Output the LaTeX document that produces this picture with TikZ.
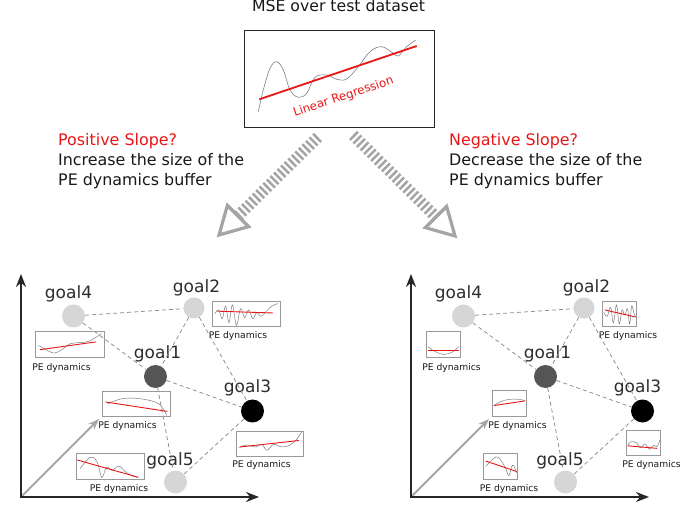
\documentclass[tikz,border=0pt]{standalone}
\usepackage{fontspec}
\setmainfont{DejaVu Sans}
\usetikzlibrary{arrows.meta}
\definecolor{myred}{RGB}{232,22,22}
\definecolor{txtc}{RGB}{25,25,25}
\definecolor{lblc}{RGB}{45,45,45}
\definecolor{nodelight}{RGB}{214,214,214}
\definecolor{nodedark}{RGB}{85,85,85}
\definecolor{hatchc}{RGB}{165,165,165}
\tikzset{
  bigtxt/.style={font=\fontsize{15.9}{20}\selectfont, text=txtc, inner sep=0pt, anchor=base west},
  redtxt/.style={bigtxt, text=myred},
  goallbl/.style={font=\fontsize{17}{20}\selectfont, text=lblc, inner sep=0pt, anchor=base},
  pelbl/.style={font=\fontsize{9.2}{10}\selectfont, text=txtc, inner sep=0pt},
  pebox/.style={draw=black!40, line width=0.7pt, inner sep=0pt, outer sep=0pt, anchor=north west},
  gcurve/.style={draw=black!55, line width=0.45pt},
  rline/.style={draw=myred, line width=0.9pt},
  goalnode/.style={circle, minimum size=23pt, inner sep=0pt},
  edge/.style={draw=black!45, line width=0.75pt, dash pattern=on 4pt off 3pt},
  axisline/.style={draw=black!85, line width=1.8pt, line cap=rect, -{Stealth[length=13pt,width=10pt]}},
  diagline/.style={draw=black!35, line width=1.8pt, -{Stealth[length=11pt,width=8pt]}},
  hatchshaft/.style={draw=hatchc, line width=11.5pt, dash pattern=on 2.5pt off 2.5pt},
  hatchhead/.style={draw=hatchc, line width=3.2pt, line join=miter},
}
% #1 name, #2 x, #3 y, #4 w, #5 h, #6 gray coords, #7 red path
\newcommand\pebox[7]{%
  \node[pebox, minimum width=#4pt, minimum height=#5pt] (#1) at (#2,#3) {};
  \begin{scope}[shift={(#2,#3)}, x=#4pt, y=-#5pt]
    \draw[gcurve] plot[smooth, tension=0.6] coordinates {#6};
    \draw[rline] #7;
  \end{scope}}
\newcommand\drawpanel[1]{%
  \coordinate (#1o) at (21,497);
  \coordinate (#1ytip) at (21,274);
  \coordinate (#1xtip) at (259,497);
  \coordinate (#1dtip) at (99,419);
  \draw[diagline] (#1o) -- (#1dtip);
  \draw[axisline] (#1o) -- (#1ytip);
  \draw[axisline] (#1o) -- (#1xtip);
  \node[goalnode, fill=nodelight] (#1g4) at (73.5,316) {};
  \node[goalnode, fill=nodelight, minimum size=21pt] (#1g2) at (194,308) {};
  \node[goalnode, fill=nodedark] (#1g1) at (155.5,376.5) {};
  \node[goalnode, fill=black] (#1g3) at (252.5,411) {};
  \node[goalnode, fill=nodelight] (#1g5) at (175.5,482) {};
  \node[goallbl] (#1l4) at (68.5,298.5) {goal4};
  \node[goallbl] (#1l2) at (196.5,293) {goal2};
  \node[goallbl] (#1l1) at (157.5,359) {goal1};
  \node[goallbl] (#1l3) at (247.5,392.5) {goal3};
  \node[goallbl] (#1l5) at (170,465.5) {goal5};
  \draw[edge] (#1g4) -- (#1g2);
  \draw[edge] (#1g4) -- (#1g1);
  \draw[edge] (#1g2) -- (#1g1);
  \draw[edge] (#1g2) -- (#1g3);
  \draw[edge] (#1g1) -- (#1g3);
  \draw[edge] (#1g1) -- (#1g5);
  \draw[edge] (#1g3) -- (#1g5);
  \node[pelbl] (#1t2) at (238,336) {PE dynamics};
  \node[pelbl] (#1t4) at (61.5,367.5) {PE dynamics};
  \node[pelbl] (#1t1) at (127.5,426) {PE dynamics};
  \node[pelbl] (#1t3) at (261.5,464.5) {PE dynamics};
  \node[pelbl] (#1t5) at (119,489) {PE dynamics};
}
\begin{document}
\begin{tikzpicture}[x=1pt,y=-1pt]
\useasboundingbox[fill=white] (0,0) rectangle (680,510);

% top
\node[font=\fontsize{15.7}{20}\selectfont, text=txtc, inner sep=0pt, anchor=base] (title) at (338.5,12) {MSE over test dataset};
\node[draw=black!85, line width=1.4pt, minimum width=190pt, minimum height=97pt, inner sep=0pt, anchor=north west] (msebox) at (244,30) {};
\draw[black!50, line width=0.6pt] plot[smooth, tension=0.6] coordinates {(258.3,111.7) (263.3,90) (270,68.3) (276.7,61.7) (283.3,70) (290,90) (298.3,97.3) (306.7,93.3) (315,77.3) (326.7,75) (336.7,79.3) (346.7,79) (358.3,66.7) (370,51.7) (381.7,46.7) (393.3,53.3) (398.3,56) (406.7,46.7) (415.7,40)};
\coordinate (rl1) at (259.3,99.3);
\coordinate (rl2) at (416.7,46);
\draw[myred, line width=1.8pt] (rl1) -- (rl2);
\node[rotate=18.6, text=myred, font=\fontsize{11.8}{13}\selectfont, inner sep=0pt] (lr) at (343.5,97) {Linear Regression};

% texts
\node[redtxt] (pos) at (58,146) {Positive Slope?};
\node[bigtxt] (pos2) at (58,166) {Increase the size of the};
\node[bigtxt] (pos3) at (58,186) {PE dynamics buffer};
\node[redtxt] (neg) at (449,146) {Negative Slope?};
\node[bigtxt] (neg2) at (449,166) {Decrease the size of the};
\node[bigtxt] (neg3) at (449,186) {PE dynamics buffer};

% hatched arrows
\coordinate (la1) at (318,137);
\coordinate (la2) at (238,216);
\coordinate (latip) at (219,235);
\coordinate (lab1) at (248.6,226.6);
\coordinate (lab2) at (227.4,205.4);
\draw[hatchshaft] (la1) -- (la2);
\draw[hatchhead] (latip) -- (lab1) -- (lab2) -- cycle;
\coordinate (ra1) at (353,135);
\coordinate (ra2) at (436,217);
\coordinate (ratip) at (455,236);
\coordinate (rab1) at (425.4,227.6);
\coordinate (rab2) at (446.6,206.4);
\draw[hatchshaft] (ra1) -- (ra2);
\draw[hatchhead] (ratip) -- (rab1) -- (rab2) -- cycle;

% left panel
\drawpanel{L-}
\pebox{L-b2}{212}{301}{68}{25.5}{(0.04,0.5) (0.1,0.35) (0.15,0.7) (0.2,0.2) (0.25,0.85) (0.3,0.15) (0.36,0.95) (0.42,0.3) (0.48,0.65) (0.54,0.35) (0.6,0.7) (0.66,0.45) (0.72,0.6) (0.8,0.4) (0.88,0.2) (0.97,0.1)}{(0.08,0.4) -- (0.9,0.47)}
\pebox{L-b4}{35}{331}{69}{26}{(0.05,0.55) (0.15,0.7) (0.28,0.85) (0.4,0.7) (0.5,0.5) (0.62,0.45) (0.75,0.42) (0.85,0.3) (0.96,0.1)}{(0.07,0.72) -- (0.88,0.42)}
\pebox{L-b1}{102}{391}{68}{25.5}{(0.08,0.5) (0.3,0.3) (0.55,0.3) (0.8,0.45) (0.9,0.7) (0.95,0.95)}{(0.05,0.43) -- (0.96,0.8)}
\pebox{L-b3}{236}{431}{67.5}{25}{(0.04,0.66) (0.16,0.56) (0.29,0.64) (0.38,0.53) (0.46,0.77) (0.56,0.53) (0.68,0.64) (0.8,0.56) (0.9,0.33) (0.98,0.0)}{(0.06,0.64) -- (0.93,0.38)}
\pebox{L-b5}{76}{453}{68}{26}{(0.06,0.6) (0.21,0.16) (0.31,0.34) (0.38,0.94) (0.45,0.54) (0.53,0.67) (0.63,0.5) (0.72,0.71) (0.82,0.87) (0.92,0.94)}{(0.02,0.27) -- (0.91,0.93)}

% right panel
\begin{scope}[xshift=390pt]
\drawpanel{R-}
\pebox{R-b2}{212}{301}{34.5}{25.5}{(0.05,0.45) (0.15,0.6) (0.25,0.25) (0.33,0.85) (0.42,0.15) (0.5,0.9) (0.58,0.35) (0.66,0.55) (0.74,0.3) (0.8,0.9) (0.86,0.2) (0.93,0.5) (0.98,0.6)}{(0.08,0.35) -- (0.98,0.63)}
\pebox{R-b4}{36}{331}{34.5}{26}{(0.05,0.6) (0.25,0.78) (0.5,0.9) (0.75,0.82) (0.95,0.6)}{(0.05,0.76) -- (0.95,0.76)}
\pebox{R-b1}{102}{390.5}{34.5}{26}{(0.08,0.55) (0.35,0.38) (0.65,0.33) (0.95,0.38)}{(0.05,0.58) -- (0.96,0.4)}
\pebox{R-b3}{236}{430}{34.5}{25.5}{(0.05,0.6) (0.15,0.45) (0.3,0.5) (0.42,0.7) (0.55,0.55) (0.68,0.75) (0.8,0.6) (0.9,0.65) (0.98,0.4)}{(0.05,0.62) -- (0.9,0.72)}
\pebox{R-b5}{93}{453.5}{34.5}{26}{(0.08,0.5) (0.3,0.2) (0.45,0.15) (0.65,0.55) (0.75,0.85) (0.85,0.45) (0.92,0.55) (0.98,0.75)}{(0.08,0.29) -- (0.97,0.69)}
\end{scope}
\end{tikzpicture}
\end{document}
